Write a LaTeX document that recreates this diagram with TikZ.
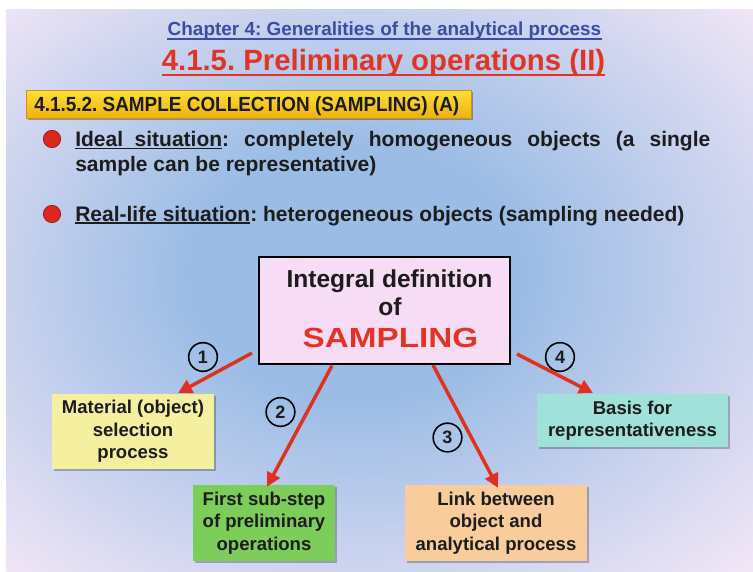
\documentclass[tikz,border=0pt]{standalone}
\usepackage{fontspec}
\setmainfont{Liberation Sans}
\usepackage{graphicx}
\usetikzlibrary{arrows.meta,shadows}
\definecolor{bgblue}{RGB}{154,188,229}
\definecolor{bgpink}{RGB}{246,232,247}
\definecolor{chapblue}{RGB}{60,76,164}
\definecolor{titlered}{RGB}{226,52,36}
\definecolor{arrowred}{RGB}{224,48,30}
\definecolor{boxpink}{RGB}{246,220,244}
\definecolor{byellow}{RGB}{245,240,160}
\definecolor{bgreen}{RGB}{125,205,90}
\definecolor{borange}{RGB}{249,204,156}
\definecolor{bcyan}{RGB}{160,226,218}
\definecolor{goldtop}{RGB}{253,222,60}
\definecolor{goldbot}{RGB}{238,178,10}
\definecolor{golddark}{RGB}{205,150,0}
\definecolor{textblack}{RGB}{28,28,28}
\definecolor{bulletred}{RGB}{220,40,30}
\definecolor{bulletdark}{RGB}{150,20,15}
\pgfdeclareradialshading{bgshade}{\pgfpoint{-2bp}{2bp}}{color(0bp)=(bgblue); color(11bp)=(bgblue); color(37bp)=(bgpink); color(50bp)=(bgpink)}
\newcommand\myul[1]{\setbox0\hbox{#1}\rlap{\rule[-2.2pt]{\wd0}{1.1pt}}\box0}
\frenchspacing
\begin{document}
\begin{tikzpicture}[x=0.75pt,y=-0.75pt,
  childbox/.style={align=center, inner sep=0pt, text=textblack,
    font=\fontsize{13.9pt}{16.9pt}\selectfont\bfseries,
    drop shadow={shadow xshift=1.3pt,shadow yshift=-1.3pt,fill=black,opacity=0.25}},
  numc/.style={circle, draw=black, line width=1.2pt, minimum size=21.5pt, inner sep=0pt,
    text=textblack, font=\fontsize{13.5pt}{13.5pt}\selectfont\bfseries},
  redarrow/.style={draw=arrowred, line width=2.6pt, -{Triangle[length=10.5pt,width=10.5pt]}},
  bullet/.style={circle, fill=bulletred, draw=bulletdark, line width=0.5pt, minimum size=13pt, inner sep=0pt},
  btext/.style={anchor=base west, inner sep=0pt, text=textblack, font=\fontsize{15.75pt}{18pt}\selectfont\bfseries},
]
\useasboundingbox (0,0) rectangle (753,571);
% background
\path[shading=bgshade] (6,9) rectangle (753,571);

% titles
\node[anchor=base, inner sep=0pt, text=chapblue] (chap) at (384.5,36)
  {\fontsize{14.2pt}{16pt}\selectfont\bfseries Chapter 4: Generalities of the analytical process};
\draw[chapblue, line width=1.1pt] ([yshift=-2.2pt]chap.base west) -- ([yshift=-2.2pt]chap.base east);
\node[anchor=base, inner sep=0pt, text=titlered] (title) at (383.5,70)
  {\fontsize{22pt}{24pt}\selectfont\bfseries 4.1.5. Preliminary operations (II)};
\draw[titlered, line width=1.6pt] ([yshift=-3.7pt]title.base west) -- ([yshift=-3.7pt]title.base east);

% banner
\node[anchor=north west, minimum width=333.75pt, minimum height=21pt, inner sep=0pt,
  top color=goldtop, bottom color=goldbot, draw=golddark, line width=0.4pt,
  drop shadow={shadow xshift=1.3pt,shadow yshift=-1.5pt,fill=black,opacity=0.3}] (banner) at (26,90) {};
\node[anchor=base west, inner sep=0pt, text=textblack] (bannertext) at (34,111)
  {\scalebox{1}[1.08]{\fontsize{14.2pt}{16pt}\selectfont\bfseries 4.1.5.2. SAMPLE COLLECTION (SAMPLING) (A)}};

% bullets
\node[bullet] (b1) at (52,139) {};
\node[btext] (l1) at (75,146.5)
  {\makebox[476.25pt][s]{\myul{Ideal\hspace{0.55em}situation}: completely homogeneous objects (a single}};
\node[btext] (l2) at (75,171) {sample can be representative)};
\node[bullet] (b2) at (52,214) {};
\node[btext] (l3) at (75,221) {\myul{Real-life situation}: heterogeneous objects (sampling needed)};

% central box
\node[draw=black, line width=1.6pt, fill=boxpink, minimum width=188.25pt, minimum height=80.25pt, inner sep=0pt] (def) at (384.5,310.5) {};
\node[anchor=base, inner sep=0pt, text=textblack, font=\fontsize{18.4pt}{20pt}\selectfont\bfseries] (d1) at (389.5,287) {Integral definition};
\node[anchor=base, inner sep=0pt, text=textblack, font=\fontsize{18.4pt}{20pt}\selectfont\bfseries] (d2) at (390,315) {of};
\node[anchor=base, inner sep=0pt, text=titlered] (d3) at (390.5,347)
  {\scalebox{1.2}[1]{\fontsize{20.8pt}{22pt}\selectfont\bfseries SAMPLING}};

% child boxes
\node[childbox, fill=byellow, minimum width=121.5pt, minimum height=56.25pt] (mat) at (133,431.5)
  {Material (object)\\selection\\process};
\node[childbox, fill=bgreen, minimum width=106.5pt, minimum height=57pt] (first) at (264,523)
  {First sub-step\\of preliminary\\operations};
\node[childbox, fill=borange, minimum width=136.5pt, minimum height=57pt] (link) at (496,523)
  {Link between\\object and\\analytical process};
\node[childbox, fill=bcyan, minimum width=143.25pt, minimum height=39.75pt] (basis) at (632.5,420.5)
  {Basis for\\representativeness};

% arrows
\draw[redarrow] ([xshift=-4.5pt,yshift=9pt]def.south west) -- ([xshift=33.75pt,yshift=0.5pt]mat.north);
\draw[redarrow] ([xshift=-39.4pt,yshift=-0.5pt]def.south) -- ([xshift=2.25pt,yshift=-1.5pt]first.north);
\draw[redarrow] ([xshift=36.4pt]def.south) -- ([xshift=1.5pt,yshift=-2.25pt]link.north);
\draw[redarrow] ([xshift=4.5pt,yshift=8.25pt]def.south east) -- ([xshift=-29.6pt,yshift=0.5pt]basis.north);

% numbered circles
\node[numc] (n1) at (203,357) {1};
\node[numc] (n2) at (280.5,412) {2};
\node[numc] (n3) at (447.5,437.5) {3};
\node[numc] (n4) at (560,357) {4};
\end{tikzpicture}
\end{document}
